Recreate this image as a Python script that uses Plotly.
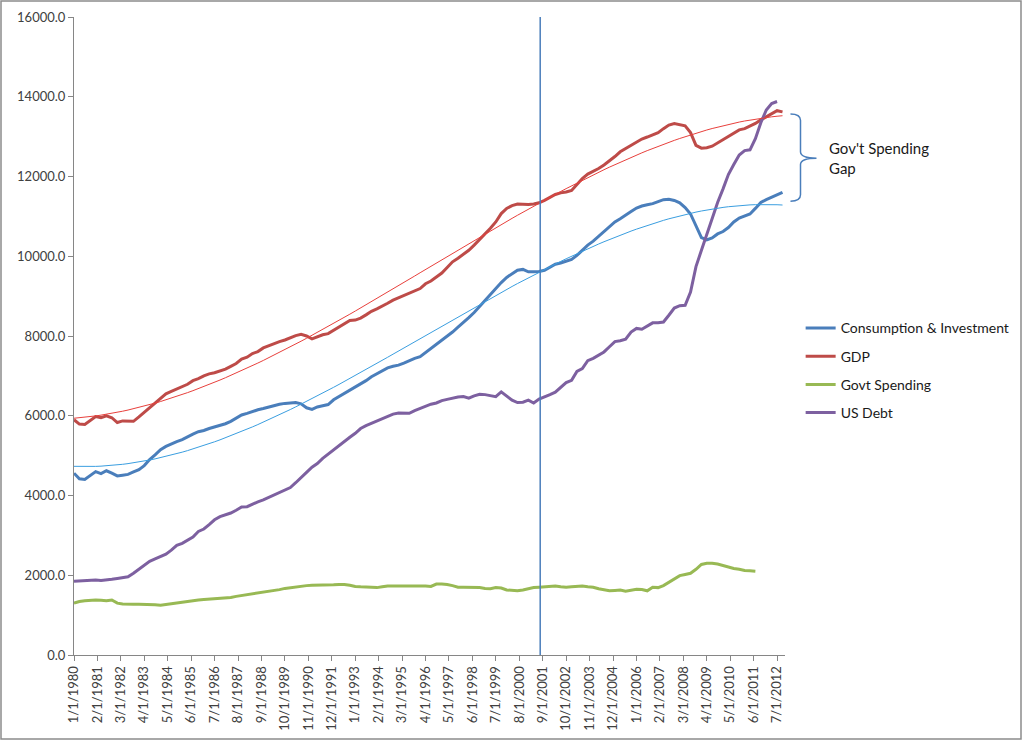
import numpy as np
import pandas as pd
import plotly.graph_objects as go

# ---------------- data (quarterly, billions) ----------------
start_date = "1980-01-01"

gdp = [
    5900, 5790, 5780, 5880,   # 1980
    5980, 5950, 6000, 5950,   # 1981
    5830, 5870, 5860, 5860,   # 1982
    5970, 6080, 6190, 6310,   # 1983
    6430, 6550, 6610, 6670,   # 1984
    6740, 6790, 6880, 6930,   # 1985
    7000, 7050, 7080, 7130,   # 1986
    7170, 7240, 7310, 7420,   # 1987
    7470, 7560, 7610, 7700,   # 1988
    7760, 7820, 7860, 7900,   # 1989
    7960, 8010, 8040, 8000,   # 1990
    7930, 7990, 8030, 8060,   # 1991
    8140, 8230, 8300, 8390,   # 1992
    8400, 8450, 8530, 8620,   # 1993
    8680, 8760, 8820, 8900,   # 1994
    8960, 9000, 9060, 9130,   # 1995
    9190, 9310, 9380, 9480,   # 1996
    9580, 9720, 9860, 9950,   # 1997
    10050, 10150, 10280, 10420,  # 1998
    10550, 10700, 10860, 11070,  # 1999
    11200, 11270, 11310, 11300,  # 2000
    11300, 11310, 11340, 11400,  # 2001
    11480, 11550, 11590, 11610,  # 2002
    11650, 11800, 11950, 12060,  # 2003
    12120, 12200, 12290, 12390,  # 2004
    12500, 12620, 12700, 12780,  # 2005
    12880, 12940, 12990, 13040,  # 2006
    13100, 13200, 13290, 13330,  # 2007
    13290, 13270, 13100, 12780,  # 2008
    12710, 12720, 12760, 12840,  # 2009
    12920, 13000, 13090, 13170,  # 2010
    13200, 13260, 13330, 13420,  # 2011
    13500, 13570, 13650, 13620,  # 2012
]

consumption_investment = [
    4560, 4420, 4400, 4500,   # 1980
    4600, 4550, 4620, 4560,   # 1981
    4490, 4510, 4530, 4590,   # 1982
    4650, 4750, 4900, 5020,   # 1983
    5150, 5230, 5300, 5350,   # 1984
    5400, 5480, 5540, 5600,   # 1985
    5630, 5680, 5720, 5760,   # 1986
    5800, 5860, 5940, 6020,   # 1987
    6060, 6110, 6150, 6180,   # 1988
    6220, 6260, 6290, 6310,   # 1989
    6320, 6330, 6300, 6200,   # 1990
    6160, 6220, 6250, 6280,   # 1991
    6400, 6480, 6560, 6630,   # 1992
    6700, 6780, 6880, 6980,   # 1993
    7060, 7140, 7200, 7240,   # 1994
    7270, 7320, 7380, 7440,   # 1995
    7480, 7580, 7690, 7780,   # 1996
    7880, 7990, 8100, 8220,   # 1997
    8330, 8460, 8590, 8740,   # 1998
    8890, 9060, 9210, 9340,   # 1999
    9470, 9570, 9650, 9670,   # 2000
    9610, 9610, 9620, 9650,   # 2001
    9720, 9800, 9830, 9880,   # 2002
    9920, 10020, 10150, 10280,  # 2003
    10380, 10500, 10640, 10760,  # 2004
    10860, 10940, 11020, 11120,  # 2005
    11210, 11260, 11290, 11320,  # 2006
    11370, 11420, 11430, 11400,  # 2007
    11340, 11220, 11060, 10750,  # 2008
    10470, 10410, 10460, 10560,  # 2009
    10620, 10720, 10860, 10960,  # 2010
    11020, 11060, 11200, 11350,  # 2011
    11420, 11480, 11540, 11600,  # 2012
]

govt_spending = [
    1300, 1340, 1360, 1370,   # 1980
    1380, 1370, 1360, 1380,   # 1981
    1300, 1280, 1270, 1270,   # 1982
    1270, 1270, 1270, 1260,   # 1983
    1250, 1270, 1290, 1310,   # 1984
    1330, 1340, 1360, 1380,   # 1985
    1390, 1400, 1410, 1420,   # 1986
    1420, 1440, 1470, 1490,   # 1987
    1510, 1530, 1550, 1570,   # 1988
    1590, 1610, 1640, 1670,   # 1989
    1690, 1700, 1720, 1740,   # 1990
    1750, 1750, 1750, 1750,   # 1991
    1760, 1770, 1770, 1750,   # 1992
    1720, 1710, 1700, 1690,   # 1993
    1690, 1710, 1730, 1730,   # 1994
    1730, 1730, 1740, 1730,   # 1995
    1730, 1730, 1720, 1780,   # 1996
    1780, 1770, 1740, 1700,   # 1997
    1700, 1700, 1700, 1690,   # 1998
    1670, 1660, 1690, 1680,   # 1999
    1630, 1620, 1610, 1630,   # 2000
    1660, 1690, 1700, 1710,   # 2001
    1720, 1730, 1710, 1700,   # 2002
    1710, 1720, 1730, 1710,   # 2003
    1700, 1660, 1630, 1610,   # 2004
    1620, 1630, 1600, 1620,   # 2005
    1650, 1640, 1610, 1700,   # 2006
    1690, 1740, 1830, 1920,   # 2007
    1990, 2020, 2050, 2150,   # 2008
    2270, 2300, 2300, 2280,   # 2009
    2240, 2200, 2170, 2150,   # 2010
    2120, 2110, 2100,         # 2011
]

us_debt = [
    1850, 1860, 1870, 1880,   # 1980
    1880, 1870, 1880, 1900,   # 1981
    1920, 1940, 1960, 2050,   # 1982
    2150, 2270, 2350, 2410,   # 1983
    2470, 2530, 2630, 2750,   # 1984
    2800, 2870, 2960, 3100,   # 1985
    3160, 3270, 3390, 3470,   # 1986
    3520, 3560, 3630, 3710,   # 1987
    3720, 3790, 3840, 3890,   # 1988
    3950, 4000, 4070, 4140,   # 1989
    4200, 4320, 4440, 4580,   # 1990
    4710, 4800, 4930, 5040,   # 1991
    5150, 5250, 5360, 5460,   # 1992
    5560, 5680, 5750, 5810,   # 1993
    5880, 5930, 5980, 6040,   # 1994
    6070, 6060, 6060, 6130,   # 1995
    6190, 6240, 6290, 6320,   # 1996
    6380, 6410, 6440, 6470,   # 1997
    6480, 6440, 6500, 6540,   # 1998
    6530, 6500, 6480, 6600,   # 1999
    6500, 6390, 6330, 6340,   # 2000
    6390, 6320, 6420, 6470,   # 2001
    6530, 6590, 6720, 6830,   # 2002
    6890, 7110, 7180, 7380,   # 2003
    7440, 7530, 7600, 7730,   # 2004
    7860, 7880, 7920, 8100,   # 2005
    8190, 8170, 8260, 8330,   # 2006
    8330, 8350, 8520, 8700,   # 2007
    8760, 8770, 9100, 9740,   # 2008
    10150, 10540, 10950, 11350,  # 2009
    11690, 12050, 12300, 12540,  # 2010
    12650, 12670, 12950, 13350,  # 2011
    13668, 13830, 13880,         # 2012
]

tick_labels = [
    "1/1/1980", "2/1/1981", "3/1/1982", "4/1/1983", "5/1/1984", "6/1/1985",
    "7/1/1986", "8/1/1987", "9/1/1988", "10/1/1989", "11/1/1990", "12/1/1991",
    "1/1/1993", "2/1/1994", "3/1/1995", "4/1/1996", "5/1/1997", "6/1/1998",
    "7/1/1999", "8/1/2000", "9/1/2001", "10/1/2002", "11/1/2003", "12/1/2004",
    "1/1/2006", "2/1/2007", "3/1/2008", "4/1/2009", "5/1/2010", "6/1/2011",
    "7/1/2012",
]
y_ticks = [0, 2000, 4000, 6000, 8000, 10000, 12000, 14000, 16000]
marker_date = "2001-07-20"
x_range = ["1980-01-01", "2012-11-12"]
brace_top, brace_mid, brace_bottom = 13570, 12460, 11380

# ---------------- build ----------------
def qdates(n):
    return pd.date_range(start=start_date, periods=n, freq="QS")

def trend(values, deg=3):
    d = qdates(len(values))
    t = np.array([(x - d[0]).days / 365.25 for x in d])
    coef = np.polyfit(t, np.array(values, dtype=float), deg)
    return d, np.polyval(coef, t)

C_BLUE = "#4a7ebb"
C_RED = "#be4b48"
C_GREEN = "#98b954"
C_PURPLE = "#7d60a0"
FONT = "Lato, Carlito, 'Liberation Sans', sans-serif"

fig = go.Figure()
series = [
    ("Consumption & Investment", consumption_investment, C_BLUE),
    ("GDP", gdp, C_RED),
    ("Govt Spending", govt_spending, C_GREEN),
    ("US Debt", us_debt, C_PURPLE),
]
for i, (name, vals, col) in enumerate(series):
    fig.add_trace(go.Scatter(
        x=qdates(len(vals)), y=vals, mode="lines", name=name,
        line=dict(color=col, width=3), legendgroup=f"g{i}",
    ))

td, tv = trend(gdp)
fig.add_trace(go.Scatter(x=td, y=tv, mode="lines", showlegend=False,
                         line=dict(color="#e8403c", width=1), hoverinfo="skip"))
td, tv = trend(consumption_investment)
fig.add_trace(go.Scatter(x=td, y=tv, mode="lines", showlegend=False,
                         line=dict(color="#3a9ee0", width=1), hoverinfo="skip"))

# vertical marker line
fig.add_shape(type="line", xref="x", yref="y", x0=marker_date, x1=marker_date,
              y0=0, y1=16000, line=dict(color="#4a7ebb", width=1.5))

# brace "}" in paper-x / data-y
xl, xm, xt = 1.0077, 1.0218, 1.0443
dy = 160
path = (f"M {xl} {brace_top} Q {xm} {brace_top} {xm} {brace_top - dy} "
        f"L {xm} {brace_mid + dy} Q {xm} {brace_mid} {xt} {brace_mid} "
        f"Q {xm} {brace_mid} {xm} {brace_mid - dy} "
        f"L {xm} {brace_bottom + dy} Q {xm} {brace_bottom} {xl} {brace_bottom}")
fig.add_shape(type="path", xref="paper", yref="y", path=path,
              line=dict(color="#4a7ebb", width=1.5))

fig.add_annotation(xref="paper", yref="y", x=1.0590, y=brace_mid,
                   text="Gov't Spending<br>Gap", showarrow=False,
                   xanchor="left", yanchor="middle", align="left",
                   font=dict(family=FONT, size=15, color="#1a1a1a"))

# outer chart border
W, H = 711, 638
L, T = 74, 17
fig.add_shape(type="rect", xref="paper", yref="paper",
              x0=(1 - L) / W, x1=(1021 - L) / W,
              y0=(655 - 739) / H, y1=(655 - 1) / H,
              line=dict(color="#8c8c8c", width=1.5), layer="below")

fig.update_layout(
    width=1024, height=741,
    margin=dict(l=74, r=239, t=17, b=86, autoexpand=False),
    paper_bgcolor="white", plot_bgcolor="white",
    font=dict(family=FONT, size=13, color="#404040"),
    showlegend=True,
    legend=dict(x=1.022, y=0.537, xanchor="left", yanchor="top",
                font=dict(family=FONT, size=14, color="#1a1a1a"),
                tracegroupgap=7, traceorder="grouped",
                bgcolor="rgba(0,0,0,0)"),
    xaxis=dict(
        type="date", range=x_range, automargin=False,
        tickvals=pd.to_datetime(tick_labels, format="%m/%d/%Y"),
        ticktext=tick_labels, tickangle=-90,
        ticks="outside", ticklen=5, tickcolor="#868686",
        showline=True, linecolor="#868686", linewidth=1,
        showgrid=False, zeroline=False,
        tickfont=dict(family=FONT, size=13, color="#404040"),
    ),
    yaxis=dict(
        range=[0, 16000], tickvals=y_ticks, tickformat=".1f", automargin=False,
        ticks="outside", ticklen=5, tickcolor="#868686",
        showline=True, linecolor="#868686", linewidth=1,
        showgrid=False, zeroline=False,
        tickfont=dict(family=FONT, size=13, color="#404040"),
    ),
)

fig.write_html("out.html",
               config={"displayModeBar": False},
               post_script="document.body.style.margin='0';"
                           "document.body.style.overflow='hidden';")
